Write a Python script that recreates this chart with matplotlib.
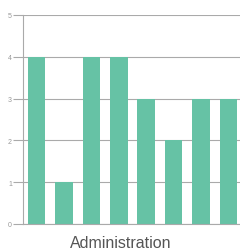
import matplotlib
matplotlib.use("Agg")
import matplotlib.pyplot as plt

categories = ["A", "B", "C", "D", "E", "F", "G", "H"]
values = [4, 1, 4, 4, 3, 2, 3, 3]
yticks = [0, 1, 2, 3, 4, 5]
xlabel = "Administration"

W, H = 240, 253
fig = plt.figure(figsize=(W / 100, H / 100), dpi=100)
ax = fig.add_axes([23 / W, 28 / H, 219 / W, 209 / H])

x = list(range(len(categories)))
ax.bar(x, values, width=0.64, color="#66c2a5", zorder=2)
ax.set_xlim(-0.5, len(categories) - 0.5)
ax.set_ylim(0, 5)
ax.set_yticks(yticks)
ax.set_yticklabels([str(t) for t in yticks], fontsize=5, color="#999999",
                   family="Liberation Sans")
ax.set_xticks([])
ax.yaxis.grid(True, color="#aaaaaa", linewidth=0.8, zorder=1)
ax.tick_params(axis="y", length=7, width=0.8, color="#aaaaaa", pad=1)
for side in ["top", "right"]:
    ax.spines[side].set_visible(False)
for side in ["left", "bottom"]:
    ax.spines[side].set_color("#aaaaaa")
    ax.spines[side].set_linewidth(0.8)

fig.text(121 / W, 1 - 244 / H, xlabel, ha="center", va="center", fontsize=11.5,
         color="#555555", family="Liberation Sans")
fig.savefig("out.png", dpi=100)
